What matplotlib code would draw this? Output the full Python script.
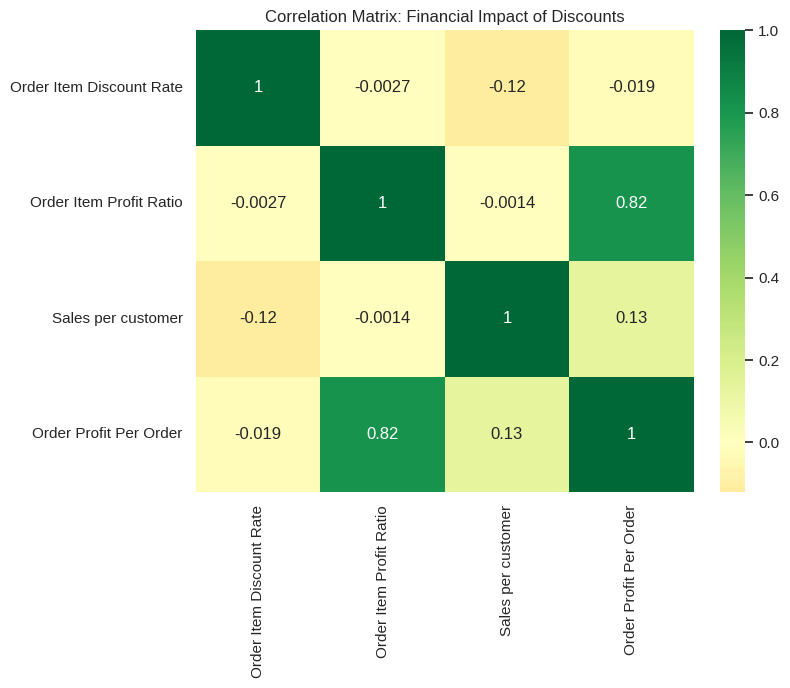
import numpy as np
import pandas as pd
import matplotlib
matplotlib.use("Agg")
import matplotlib.pyplot as plt
import seaborn as sns

labels = ["Order Item Discount Rate", "Order Item Profit Ratio",
          "Sales per customer", "Order Profit Per Order"]
row_discount = [1.0, -0.0027, -0.12, -0.019]
row_profit_ratio = [-0.0027, 1.0, -0.0014, 0.82]
row_sales = [-0.12, -0.0014, 1.0, 0.13]
row_profit_order = [-0.019, 0.82, 0.13, 1.0]

corr = pd.DataFrame([row_discount, row_profit_ratio, row_sales, row_profit_order],
                    index=labels, columns=labels)

sns.set_theme()
plt.rcParams['font.family'] = ['Liberation Sans', 'DejaVu Sans']

fig = plt.figure(figsize=(7.9, 6.88), dpi=100)
ax = fig.add_axes([0.248, 0.285, 0.630, 0.671])
cax = fig.add_axes([0.911, 0.285, 0.032, 0.671])
sns.heatmap(corr, annot=True, cmap="RdYlGn", center=0, ax=ax, cbar_ax=cax)
ax.set_title("Correlation Matrix: Financial Impact of Discounts")
plt.savefig("out.png", dpi=100)
